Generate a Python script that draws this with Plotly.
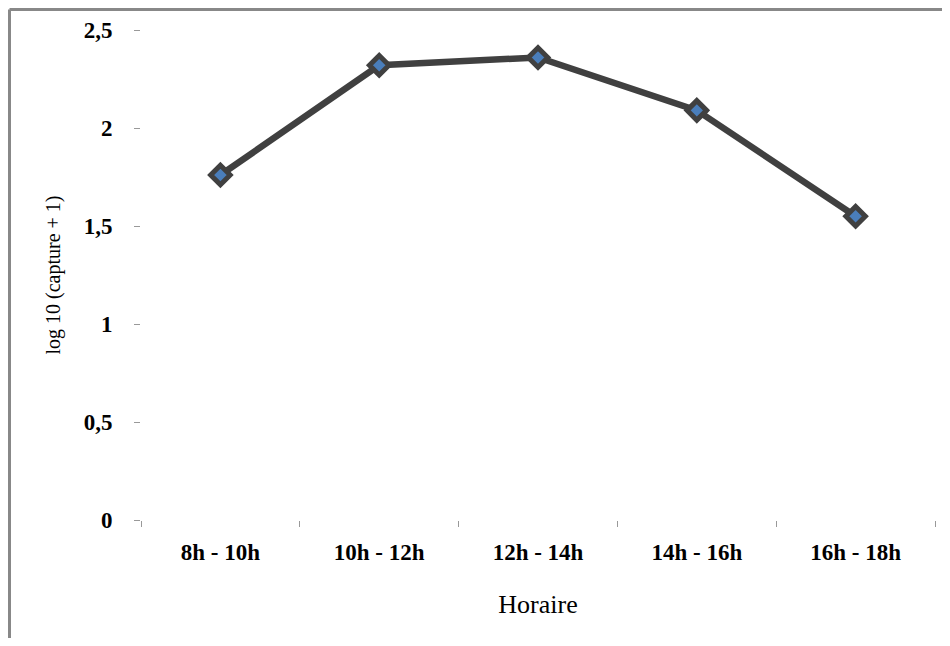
import plotly.graph_objects as go

categories = ["8h - 10h", "10h - 12h", "12h - 14h", "14h - 16h", "16h - 18h"]
values = [1.76, 2.32, 2.36, 2.09, 1.55]
y_ticks = [0, 0.5, 1, 1.5, 2, 2.5]
y_tick_labels = ["0", "0,5", "1", "1,5", "2", "2,5"]

W, H = 934, 630
L, R, T, B = 133, 7, 22, 118
pw, ph = W - L - R, H - T - B

fig = go.Figure()
fig.add_trace(go.Scatter(
    x=categories, y=values, mode="lines+markers",
    line=dict(color="#404040", width=6.5),
    marker=dict(symbol="diamond", size=15, color="#4a7ebb",
                line=dict(color="#404040", width=5)),
    showlegend=False,
))

fig.update_layout(
    width=W, height=H,
    margin=dict(l=L, r=R, t=T, b=B),
    paper_bgcolor="white", plot_bgcolor="white",
    font=dict(family="Liberation Serif", color="black"),
    xaxis=dict(
        type="category", showgrid=False, zeroline=False, showline=False,
        tickson="boundaries", ticks="outside", ticklen=6, tickcolor="#999999",
        tickwidth=1, ticklabelstandoff=16,
        tickfont=dict(family="Liberation Serif", size=23, color="black", weight="bold"),
        title=dict(text="Horaire", font=dict(family="Liberation Serif", size=26), standoff=30),
        range=[-0.5, 4.5],
    ),
    yaxis=dict(
        range=[0, 2.5], tickvals=y_ticks, ticktext=y_tick_labels,
        showgrid=False, zeroline=False, showline=False,
        ticks="outside", ticklen=6, tickcolor="#999999", tickwidth=1,
        ticklabelstandoff=17,
        tickfont=dict(family="Liberation Serif", size=23, color="black", weight="bold"),
        title=dict(text="log 10 (capture + 1)", font=dict(family="Liberation Serif", size=20), standoff=17),
    ),
    shapes=[
        dict(type="line", xref="paper", yref="paper",
             x0=-(L - 1.5) / pw, x1=-(L - 1.5) / pw, y0=(ph + T - 1.5) / ph, y1=-B / ph,
             line=dict(color="#888888", width=3)),
        dict(type="line", xref="paper", yref="paper",
             x0=-(L - 1.5) / pw, x1=(W - L) / pw, y0=(ph + T - 1.5) / ph, y1=(ph + T - 1.5) / ph,
             line=dict(color="#888888", width=3)),
    ],
)

fig.write_html("out.html")
